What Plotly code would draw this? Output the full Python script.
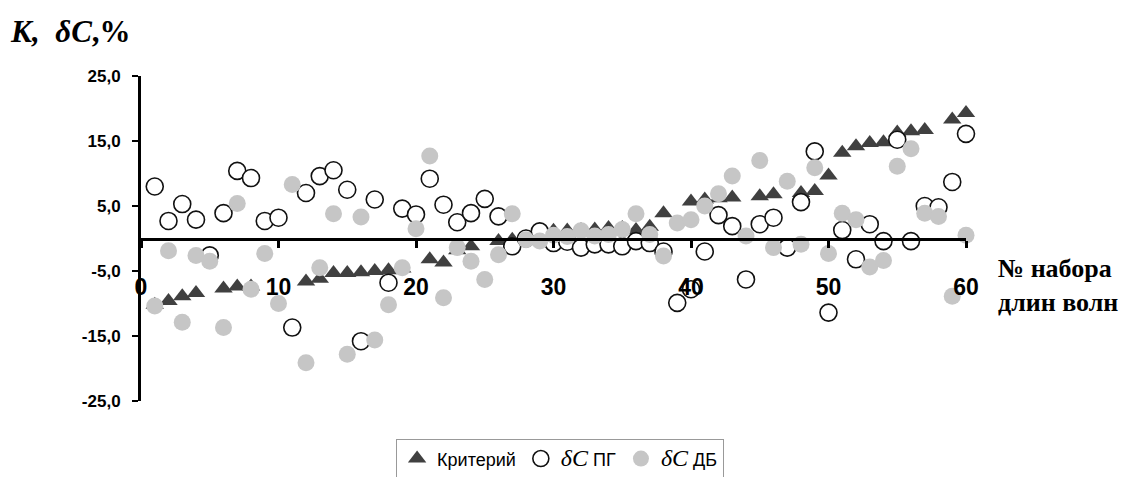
import plotly.graph_objects as go

x_sets = list(range(1, 61))

kriteriy = [-10.2, -9.6, -8.9, -8.4, None, -7.7, -7.4, -7.4, None, None,
            None, -6.6, -6.2, -5.3, -5.3, -5.2, -5.0, -4.9, -4.6, None,
            -3.2, -3.7, -1.8, -1.2, None, -0.4, -0.2, 0.2, 1.0, 1.2,
            1.25, 1.3, 1.4, 1.6, 1.6, 1.3, 1.8, 3.9, None, 5.7,
            6.0, 6.2, 6.3, None, 6.5, 6.8, None, 7.0, 7.3, 9.7,
            13.2, 14.2, 14.7, 14.8, 16.3, 16.5, 16.7, None, 18.3, 19.3]

dc_pg = [8.0, 2.7, 5.3, 2.9, -2.6, 3.9, 10.4, 9.3, 2.7, 3.2,
         -13.7, 7.0, 9.6, 10.5, 7.5, -15.8, 6.0, -6.8, 4.6, 3.7,
         9.2, 5.2, 2.5, 3.9, 6.1, 3.4, -1.2, 0.0, 1.1, -0.7,
         -0.5, -1.4, -0.9, -0.9, -1.2, -0.4, -0.7, -2.0, -9.9, -7.8,
         -2.0, 3.6, 1.9, -6.3, 2.2, 3.2, -1.4, 5.6, 13.4, -11.4,
         1.3, -3.2, 2.2, -0.4, 15.2, -0.4, 5.0, 4.8, 8.7, 16.1]

dc_db = [-10.4, -1.9, -12.9, -2.6, -3.5, -13.7, 5.4, -7.8, -2.3, -10.0,
         8.3, -19.1, -4.5, 3.8, -17.8, 3.3, -15.6, -10.2, -4.5, 1.5,
         12.7, -9.1, -1.4, -3.5, -6.3, -2.5, 3.8, -0.2, -0.4, 0.5,
         0.3, 1.2, 0.4, 0.6, 1.4, 3.8, 0.6, -2.7, 2.4, 2.9,
         5.0, 6.9, 9.6, 0.4, 12.0, -1.4, 8.8, -0.9, 10.9, -2.3,
         3.9, 2.9, -4.4, -3.4, 11.1, 13.8, 3.9, 3.4, -8.9, 0.5]

x_ticks = [0, 10, 20, 30, 40, 50, 60]
y_ticks = [-25, -15, -5, 5, 15, 25]
y_tick_labels = ["-25,0", "-15,0", "-5,0", "5,0", "15,0", "25,0"]

DC = "<span style='font-family:Liberation Serif;font-size:24px'><i>δC</i></span>"

fig = go.Figure()
fig.add_trace(go.Scatter(
    x=x_sets, y=kriteriy, mode="markers", name="Критерий",
    marker=dict(symbol="triangle-up", size=16, color="#404040"),
    cliponaxis=False))
fig.add_trace(go.Scatter(
    x=x_sets, y=dc_pg, mode="markers", name=DC + " ПГ",
    marker=dict(symbol="circle", size=17, color="white",
                line=dict(color="#111111", width=1.6)),
    cliponaxis=False))
fig.add_trace(go.Scatter(
    x=x_sets, y=dc_db, mode="markers", name=DC + " ДБ",
    marker=dict(symbol="circle", size=17, color="#c6c6c6"),
    cliponaxis=False))

fig.update_layout(
    width=1134, height=469,
    margin=dict(l=133, r=176, t=68, b=76, autoexpand=False),
    paper_bgcolor="white", plot_bgcolor="white",
    font=dict(family="Arial, Liberation Sans, sans-serif", color="black"),
    xaxis=dict(
        range=[0, 60], tickvals=x_ticks, ticktext=[f"<b>{v}</b>" for v in x_ticks],
        showgrid=False, zeroline=False,
        showline=True, linecolor="black", linewidth=3,
        anchor="free", position=0.5,
        ticks="outside", ticklen=7, tickwidth=3, tickcolor="black",
        ticklabelstandoff=20,
        tickfont=dict(size=23),
    ),
    yaxis=dict(
        range=[-25, 25], tickvals=y_ticks, ticktext=[f"<b>{t}</b>" for t in y_tick_labels],
        showgrid=False, zeroline=False,
        showline=True, linecolor="black", linewidth=3,
        ticks="outside", ticklen=6, tickwidth=2, tickcolor="black",
        ticklabelstandoff=8,
        tickfont=dict(size=17),
    ),
    legend=dict(
        orientation="h", x=0.508, xanchor="center", y=-0.118, yanchor="top",
        bordercolor="#999999", borderwidth=1, font=dict(size=18),
        itemwidth=30, traceorder="normal",
    ),
    showlegend=True,
)

fig.add_annotation(
    text="<b><i>К,  δC</i>,%</b>", xref="paper", yref="paper",
    x=-133 / 825, y=1 + 45 / 325, xanchor="left", yanchor="middle",
    showarrow=False, font=dict(family="Liberation Serif", size=31))
fig.add_annotation(
    text="<b>№ набора</b><br><b>длин волн</b>", xref="paper", yref="paper",
    x=1 + 30 / 825, y=(401.5 - 286) / 325, xanchor="left", yanchor="middle",
    align="left", showarrow=False,
    font=dict(family="Liberation Serif", size=26))

fig.write_html("out.html")
